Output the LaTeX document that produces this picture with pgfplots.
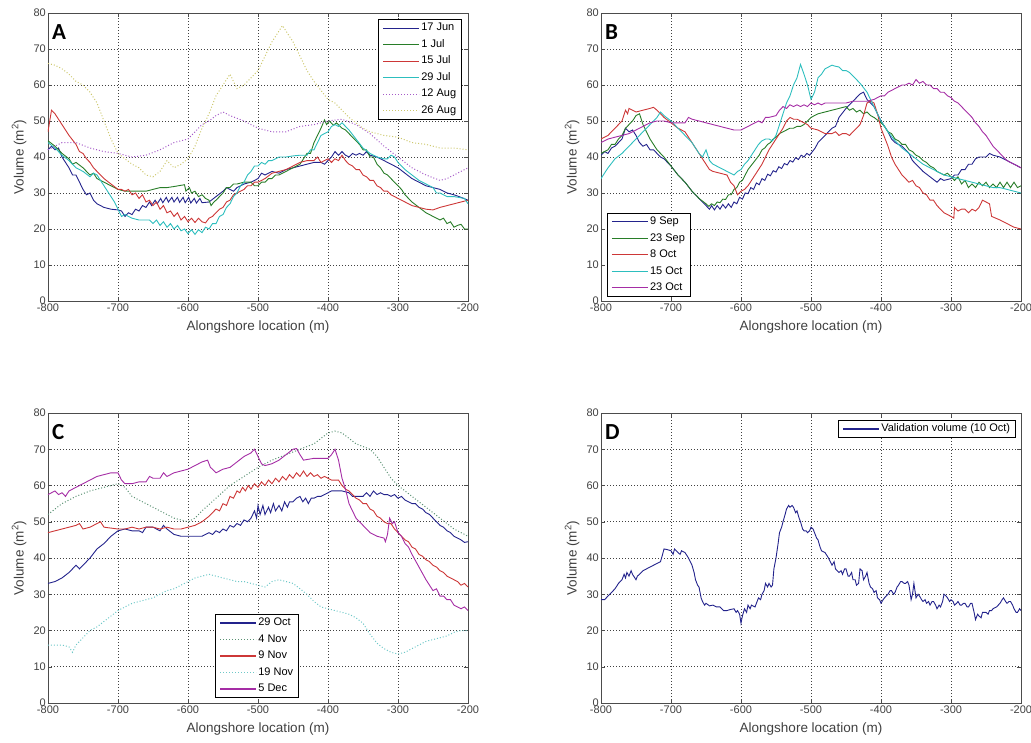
\documentclass[border=0pt]{standalone}
\usepackage{pgfplots}
\pgfplotsset{compat=1.18}
\usepackage{fontspec}
\setmainfont{Liberation Sans}
\newfontfamily\carlito{Carlito}

\definecolor{mblue}{RGB}{35,35,140}
\definecolor{mgreen}{RGB}{40,125,40}
\definecolor{mred}{RGB}{205,55,55}
\definecolor{mcyan}{RGB}{45,190,190}
\definecolor{mmag}{RGB}{165,45,165}
\definecolor{mpurp}{RGB}{165,90,200}
\definecolor{myel}{RGB}{205,200,110}
\definecolor{mgdot}{RGB}{90,145,115}
\definecolor{mcdot}{RGB}{110,200,200}

\pgfplotsset{
  mstyle/.style={
    scale only axis, width=420pt, height=288pt,
    xmin=-800, xmax=-200, ymin=0, ymax=80,
    xtick={-800,-700,-600,-500,-400,-300,-200},
    xticklabels={-800,-700,-600,-500,-400,-300,-200},
    ytick={0,10,...,80},
    /pgf/number format/assume math mode=true,
    tick align=inside, major tick length=4pt,
    axis line style={black!70, line width=0.8pt},
    major tick style={black!70},
    grid=major,
    major grid style={black!75, line width=0.7pt, dash pattern=on 1pt off 2pt},
    tick label style={font=\fontsize{11}{11}\selectfont, text=black!75},
    xticklabel style={inner sep=1pt, yshift=-2pt},
    yticklabel style={inner sep=1pt, xshift=-1pt},
    xlabel={Alongshore location (m)},
    ylabel={Volume (m\textsuperscript{2})},
    every axis x label/.style={at={([yshift=-26pt]rel axis cs:0.5,0)}, anchor=center,
      font=\fontsize{13.5}{13.5}\selectfont, text=black!75},
    every axis y label/.style={at={([xshift=-29pt]rel axis cs:0,0.5)}, anchor=center, rotate=90,
      font=\fontsize{13.5}{13.5}\selectfont, text=black!75},
    legend cell align=left,
    legend style={draw=black, line width=0.8pt, fill=white,
      font=\fontsize{11}{12}\selectfont, inner xsep=4pt, inner ysep=2pt,
      row sep=3pt,
      nodes={inner sep=1.5pt, text height=8pt, text depth=2.5pt}},
    legend image code/.code={\draw[mark repeat=2,mark phase=2, line width=1.3pt]
      plot coordinates {(0pt,0pt) (18pt,0pt) (36pt,0pt)};},
    every axis plot/.append style={line width=0.9pt},
  },
  dotl/.style={dash pattern=on 1pt off 2pt, line width=1pt},
}

\newcommand{\plabel}[1]{\node[anchor=north west, inner sep=0pt,
  font=\carlito\bfseries\fontsize{23}{23}\selectfont]
  at ([xshift=4pt,yshift=-11pt]rel axis cs:0,1) {#1};}

\begin{document}
\begin{tikzpicture}
\path[use as bounding box] (0,0) rectangle (1031pt,742pt);

%%%%% A
\begin{axis}[mstyle, at={(48pt,441pt)}, anchor=south west,
  legend style={at={(0.986,0.979)}, anchor=north east}]
\addplot[mblue] coordinates {(-800,42)(-795,43)(-790,42)(-785,42.5)(-780,40)(-770,37)(-765,35)(-760,35)(-755,33)(-750,31)(-745,29.5)(-740,30)(-735,28)(-730,27)(-720,26)(-710,25.5)(-700,25.3)(-695,25)(-690,23.5)(-685,24.5)(-680,24)(-675,25.5)(-670,25)(-665,26.5)(-660,26)(-655,27.5)(-652,26.5)(-647,28)(-644,27)(-639,28.5)(-636,27.3)(-631,28.8)(-628,27.5)(-623,28.8)(-620,27.5)(-615,28.8)(-612,27.4)(-607,28.8)(-604,27.3)(-599,28.8)(-596,27.2)(-591,28.5)(-588,27.2)(-583,28.5)(-580,27.3)(-570,27.5)(-560,29)(-550,30.5)(-545,31.5)(-540,31)(-535,30.5)(-530,31.5)(-520,32.5)(-510,33)(-500,34)(-495,35.5)(-490,35)(-480,36)(-470,35.5)(-460,36.5)(-450,37)(-440,37.5)(-430,38)(-420,38.5)(-410,38.5)(-405,38)(-400,39)(-395,40)(-390,41.5)(-385,40.5)(-380,41.5)(-375,40.5)(-370,40)(-365,41)(-360,40.5)(-355,41)(-350,40.5)(-345,41.5)(-340,40.5)(-330,40)(-320,39)(-310,38)(-300,37)(-290,35.5)(-280,34)(-270,33)(-260,32)(-250,31.5)(-240,31)(-230,30)(-220,29.5)(-210,28.8)(-200,28)};
\addlegendentry{17 Jun}
\addplot[mgreen] coordinates {(-800,44.5)(-790,43)(-780,41)(-770,39.5)(-765,38)(-760,38.5)(-750,37)(-740,35)(-735,35.5)(-730,34)(-720,33)(-710,32)(-700,31)(-690,30.5)(-680,30.5)(-670,30.5)(-660,30.5)(-650,31)(-640,31.5)(-630,31.5)(-620,31.8)(-605,32.3)(-603,30.5)(-598,31.5)(-595,30)(-590,30.5)(-585,29)(-580,29.5)(-575,28.5)(-570,28)(-567,26.5)(-563,27.5)(-560,28)(-555,29)(-550,30)(-545,31.5)(-540,31.5)(-535,32.5)(-530,32.5)(-520,33)(-510,33)(-505,32)(-500,32)(-495,33)(-490,33)(-485,34)(-480,34)(-475,35)(-470,35)(-460,36)(-450,37)(-440,38)(-435,39.5)(-430,41)(-425,41)(-420,44)(-415,46)(-410,48)(-405,50.3)(-402,49)(-398,50)(-392,48.8)(-388,49.5)(-380,48)(-375,47.5)(-370,46.5)(-360,44.5)(-355,43.5)(-350,42)(-345,42)(-340,40)(-335,40)(-330,38)(-325,37)(-320,35.5)(-315,35)(-310,34)(-305,33)(-300,32)(-295,31)(-290,29.5)(-280,27.5)(-270,26)(-260,24.5)(-250,23.5)(-240,22.5)(-235,23)(-230,21.5)(-225,22)(-220,20.5)(-215,21)(-210,21.3)(-205,20)(-200,20)};
\addlegendentry{1 Jul}
\addplot[mred] coordinates {(-800,47)(-795,53)(-790,52)(-780,49)(-770,46)(-760,43.5)(-755,41.5)(-750,41)(-745,39.5)(-740,38.5)(-735,37)(-730,36)(-725,35)(-720,34)(-710,32.5)(-700,31)(-695,31)(-690,30.5)(-685,31)(-680,29.5)(-675,30)(-670,28.5)(-665,29.5)(-660,27.5)(-655,28)(-650,26.5)(-645,27.5)(-640,25.5)(-635,26.5)(-630,24.5)(-625,25)(-620,23.5)(-615,24.5)(-610,22.5)(-605,23.5)(-600,22)(-595,23)(-590,21.8)(-585,23)(-580,22)(-575,21.7)(-570,23)(-565,23.5)(-560,24.5)(-555,25.5)(-550,26)(-545,27.5)(-540,28)(-535,29.5)(-530,30)(-525,30.5)(-520,31)(-515,32)(-510,32)(-505,33)(-500,33)(-490,34)(-480,35.5)(-470,36)(-460,36.5)(-450,37.5)(-440,38.5)(-430,39)(-420,39)(-415,40)(-410,38.5)(-400,39.5)(-395,38.5)(-390,39.5)(-385,39)(-380,40.5)(-375,39)(-370,38)(-365,37.5)(-360,36.5)(-355,36.5)(-350,35)(-345,34.5)(-340,33.5)(-335,33.5)(-330,32)(-325,31.5)(-320,30.5)(-315,30.5)(-310,29.5)(-300,28.5)(-290,27.5)(-280,26.5)(-270,26)(-260,25.5)(-250,25.3)(-240,26)(-230,26.5)(-220,27)(-210,27.5)(-200,28)};
\addlegendentry{15 Jul}
\addplot[mcyan] coordinates {(-800,44)(-790,42.5)(-780,40.5)(-770,39)(-760,37)(-750,36)(-740,34.5)(-735,35.5)(-730,35)(-725,33.5)(-720,32)(-715,30.5)(-710,29)(-705,27.5)(-700,25.5)(-695,23.5)(-690,24)(-680,23)(-670,22.5)(-660,22.5)(-655,22.5)(-650,21.5)(-645,22.5)(-640,21)(-635,22)(-630,20.5)(-625,21.5)(-620,20)(-615,21)(-610,19.5)(-605,20)(-600,18.7)(-595,19.8)(-590,18.5)(-585,19.8)(-580,19)(-575,20.5)(-570,20)(-565,21.5)(-560,21.5)(-555,23.5)(-550,24)(-545,26)(-540,27)(-535,29)(-530,30)(-525,32)(-520,33)(-515,35)(-510,36)(-505,37.5)(-500,37.5)(-495,38.5)(-490,38)(-485,39)(-480,39)(-470,40)(-460,40)(-450,40.3)(-440,40.5)(-430,40.5)(-425,42)(-420,42)(-415,44)(-410,46)(-405,46.5)(-400,47)(-395,48.5)(-390,49)(-385,48.5)(-380,49.5)(-375,48.5)(-370,47.5)(-360,45)(-350,42.5)(-340,41)(-330,40)(-320,39.5)(-315,39.5)(-310,40.5)(-305,40)(-300,38.5)(-290,36.5)(-280,35)(-270,33.5)(-260,32.5)(-250,31.5)(-245,30)(-240,30)(-230,29)(-220,29)(-205,28.5)(-200,27)};
\addlegendentry{29 Jul}
\addplot[mpurp, dotl] coordinates {(-800,42)(-790,43)(-780,44)(-760,44)(-740,42.5)(-720,41.5)(-700,41)(-690,40.5)(-680,40)(-660,40.5)(-640,42)(-630,43)(-620,44)(-600,45)(-590,47)(-580,49)(-570,50)(-560,51.5)(-550,52.5)(-540,51.5)(-520,50)(-500,48)(-480,47)(-460,47)(-440,48.5)(-420,49)(-400,50)(-380,50.5)(-360,49)(-340,46.5)(-320,43)(-300,40)(-280,37)(-260,35)(-240,33.5)(-230,34)(-220,35)(-200,37)};
\addlegendentry{12 Aug}
\addplot[myel, dotl] coordinates {(-800,66)(-790,65.5)(-780,64.5)(-770,63)(-760,61)(-750,60)(-740,58)(-730,55)(-720,50)(-710,45)(-700,41)(-690,39.5)(-680,38)(-670,37)(-660,35)(-650,34.5)(-640,36)(-630,39)(-620,37)(-610,38)(-600,39.5)(-590,43)(-580,48)(-570,52)(-560,57)(-550,60)(-540,63)(-535,61)(-530,59)(-520,60)(-510,62)(-500,64)(-490,68)(-480,72)(-470,75)(-465,76.5)(-460,75)(-450,72)(-440,68)(-430,64)(-420,61)(-410,58.5)(-400,56)(-390,55)(-380,53)(-370,51)(-360,49.5)(-350,48)(-340,47)(-320,46)(-300,45.5)(-280,44)(-260,43.5)(-240,42.5)(-220,42.5)(-200,42)};
\addlegendentry{26 Aug}
\plabel{A}
\end{axis}

%%%%% B
\begin{axis}[mstyle, at={(601pt,441pt)}, anchor=south west,
  legend style={at={(0.014,0.014)}, anchor=south west}]
\addplot[mblue] coordinates {(-800,40.5)(-795,41.5)(-790,41)(-785,42.5)(-780,43)(-775,44)(-770,45)(-765,48)(-760,47)(-755,47.5)(-750,46)(-745,44)(-740,43)(-735,43.5)(-730,42)(-725,42)(-720,41)(-715,40)(-710,39.5)(-700,37.5)(-690,35)(-680,33)(-670,30.5)(-660,28.5)(-650,26.5)(-645,25.5)(-642,26.5)(-638,25.3)(-634,26.5)(-630,25.5)(-626,26.8)(-622,25.8)(-618,27)(-614,26)(-610,27.5)(-606,27)(-602,28.8)(-598,28.3)(-594,30)(-590,29.8)(-586,31.5)(-582,31)(-578,32.8)(-574,32.3)(-570,34)(-566,33.5)(-562,35.2)(-558,34.8)(-554,36.2)(-550,35.8)(-546,37.3)(-542,36.8)(-538,38.2)(-534,37.8)(-530,39)(-526,38.6)(-522,39.8)(-518,39.3)(-514,40.5)(-510,40)(-506,41)(-502,40.5)(-498,41.5)(-494,42.5)(-490,44)(-480,46)(-470,48)(-465,48.5)(-460,51)(-450,53.5)(-440,55.5)(-430,57.5)(-425,58)(-420,56)(-415,55)(-410,54)(-405,52)(-400,50)(-395,48.5)(-390,47)(-385,45)(-380,44)(-375,43.5)(-370,43)(-365,42)(-360,41)(-355,39)(-350,38)(-345,37)(-340,36)(-330,34.5)(-320,33)(-315,34)(-310,33.5)(-300,34)(-295,35)(-290,35)(-285,36.5)(-280,36.5)(-275,38)(-270,38)(-265,39.5)(-260,40)(-250,40)(-245,41)(-240,40.5)(-230,40)(-220,39)(-210,38)(-200,37)};
\addlegendentry{9 Sep}
\addplot[mgreen] coordinates {(-800,41)(-795,41.5)(-790,42)(-785,43.5)(-780,43.5)(-775,45)(-770,46)(-765,48)(-760,49)(-755,50)(-750,51.5)(-745,52)(-740,49)(-735,47)(-730,45)(-725,43.5)(-720,42)(-710,40)(-700,37.5)(-690,35)(-680,33)(-670,30.5)(-660,28.5)(-650,27)(-646,26.3)(-642,27)(-638,26.5)(-634,27.5)(-630,27.3)(-626,28.3)(-622,28.2)(-618,29.5)(-614,29.5)(-610,31)(-606,31.5)(-602,33)(-598,33.5)(-594,35)(-590,36.5)(-586,37.5)(-582,38.5)(-578,39.5)(-574,40.5)(-570,42)(-566,42.5)(-562,43.5)(-558,44)(-554,45)(-550,45.5)(-545,46.5)(-540,47)(-535,47.5)(-530,48)(-525,48)(-520,48.5)(-515,48.5)(-510,49)(-505,50)(-500,51)(-490,52)(-480,52.5)(-470,53)(-460,53.5)(-450,54)(-445,53)(-440,53.5)(-435,52.5)(-430,53)(-425,52)(-420,52.5)(-415,51.5)(-410,51)(-400,49.5)(-395,48.5)(-390,47)(-385,46.5)(-380,45)(-375,44.5)(-370,43.5)(-365,43.5)(-360,42)(-355,41.5)(-350,40.5)(-345,40)(-340,39)(-335,38.5)(-330,37.5)(-325,37)(-320,36)(-315,35.5)(-310,35)(-305,35.5)(-300,34.5)(-295,33.5)(-290,34.5)(-285,32.5)(-280,33.5)(-275,31.5)(-270,32.5)(-265,31.5)(-260,33)(-255,32)(-250,33)(-245,31.5)(-240,32.5)(-235,31.5)(-230,33)(-225,31.5)(-220,33)(-215,31.5)(-210,33)(-205,31.5)(-200,32)};
\addlegendentry{23 Sep}
\addplot[mred] coordinates {(-800,45)(-790,46)(-780,48)(-770,50)(-765,53)(-762,52)(-760,53.5)(-750,52.5)(-740,53)(-730,53.5)(-725,53.8)(-720,53)(-710,51)(-700,49.5)(-690,48)(-680,47)(-670,44)(-660,41)(-650,38)(-645,36.5)(-640,36)(-630,35.5)(-620,35)(-615,33)(-610,32)(-605,29.5)(-600,30.5)(-595,31)(-590,32)(-585,33.5)(-580,35)(-575,36.5)(-570,38)(-565,40)(-560,42)(-555,43.5)(-550,45)(-545,46.5)(-540,48)(-535,50)(-530,51)(-525,50.5)(-520,50.5)(-515,50)(-510,49.5)(-505,49)(-500,48)(-490,47.5)(-480,46.5)(-470,46.5)(-465,47)(-460,46)(-455,46.5)(-450,46.5)(-445,46)(-440,47)(-435,48)(-430,49)(-425,51.5)(-420,55)(-415,55.5)(-410,55)(-405,52)(-400,48)(-395,45.5)(-390,43)(-385,40)(-380,38)(-375,36.5)(-370,35)(-365,34)(-360,33)(-355,33.5)(-350,32)(-345,31.5)(-340,30)(-335,29.5)(-330,28)(-325,28)(-320,26.5)(-315,25.5)(-310,24.5)(-300,23.5)(-296,23)(-295,26)(-290,25)(-285,25.5)(-280,25.5)(-275,24.5)(-270,25.5)(-265,25)(-260,26)(-255,28)(-250,27.5)(-245,27)(-242,23.5)(-230,22.5)(-220,21.5)(-210,20.5)(-200,20)};
\addlegendentry{8 Oct}
\addplot[mcyan] coordinates {(-800,34)(-790,37)(-780,39.5)(-770,41)(-760,43)(-750,45)(-740,47)(-730,49)(-720,51)(-715,52.5)(-710,51.5)(-700,50)(-690,48)(-680,46)(-670,44)(-660,41)(-655,40)(-650,42)(-645,39)(-640,38)(-630,37)(-620,36)(-610,35)(-605,36)(-600,36.5)(-595,38)(-590,39)(-585,40.5)(-580,42)(-575,43.5)(-570,44.5)(-565,45)(-560,45)(-555,44.5)(-550,46)(-545,49)(-540,52)(-535,55)(-530,57)(-525,60)(-520,62)(-515,65.7)(-510,63)(-505,60)(-500,56)(-495,58)(-490,62)(-485,63)(-480,64.5)(-475,65)(-470,65.5)(-465,65.2)(-460,65)(-455,64)(-450,64)(-445,63.5)(-440,62.5)(-430,60.5)(-420,58)(-410,54)(-400,50)(-390,47)(-380,44.5)(-370,42.5)(-360,41)(-350,39.5)(-340,38)(-330,37)(-320,36)(-310,35)(-300,34.5)(-290,34)(-280,33.5)(-270,33)(-260,32.5)(-250,32)(-240,31.5)(-230,31.5)(-220,31)(-210,30.5)(-200,30)};
\addlegendentry{15 Oct}
\addplot[mmag] coordinates {(-800,44)(-790,45)(-780,45.5)(-770,46)(-760,46.5)(-750,47.5)(-740,48.5)(-730,49.5)(-720,50)(-710,50)(-700,49.5)(-690,49.5)(-680,49.5)(-675,51)(-670,50.5)(-660,50)(-650,49.5)(-640,49)(-630,48.5)(-620,48)(-610,47.5)(-600,47.5)(-590,48.5)(-580,49.5)(-575,50)(-570,49.5)(-565,51)(-560,51)(-550,51.5)(-545,53)(-540,54)(-535,53.5)(-530,54.5)(-525,54)(-520,54.5)(-515,54)(-510,54.5)(-505,54)(-500,55)(-495,54.5)(-490,55)(-485,54.5)(-480,55)(-470,55)(-460,55)(-450,55)(-440,55.5)(-430,55.5)(-420,55.5)(-410,56)(-400,57)(-395,57)(-390,58)(-380,59)(-370,60)(-365,60)(-360,60.5)(-355,60)(-350,61.5)(-345,60.5)(-340,61)(-335,60)(-330,60)(-325,59)(-320,59)(-315,58)(-310,58)(-305,57)(-300,56.5)(-295,55.5)(-290,55)(-285,54)(-280,53)(-275,52)(-270,51)(-265,49.5)(-260,48.5)(-255,47)(-250,46)(-245,44.5)(-240,43)(-235,42)(-230,41)(-225,40)(-220,39)(-210,38)(-200,37)};
\addlegendentry{23 Oct}
\plabel{B}
\end{axis}

%%%%% C
\begin{axis}[mstyle, height=290pt, at={(48pt,39pt)}, anchor=south west,
  legend style={at={(0.398,0.017)}, anchor=south west}]
\addplot[mblue] coordinates {(-800,33)(-790,33.5)(-780,34.5)(-770,36)(-760,38)(-755,37)(-750,38)(-740,40)(-730,42.5)(-720,44)(-710,46)(-700,47.5)(-690,48)(-680,47.5)(-670,47.5)(-665,47)(-660,48.5)(-650,48.5)(-640,47.5)(-635,49)(-630,48)(-620,46.5)(-610,46)(-600,46)(-590,46)(-580,46)(-570,47)(-565,46.5)(-560,47.5)(-555,47)(-550,48)(-545,47.5)(-540,49)(-535,48.5)(-530,49.5)(-525,49)(-520,50.5)(-515,50)(-510,51)(-505,53)(-502,51)(-500,54.5)(-497,52)(-493,54.5)(-490,52)(-485,54)(-482,52.5)(-478,55)(-475,53)(-470,54.5)(-466,53)(-462,55.5)(-458,54)(-455,55.5)(-450,55.5)(-445,56.5)(-440,57)(-436,55.5)(-432,56.5)(-428,55)(-424,56.5)(-420,56.5)(-415,57)(-410,57)(-405,57.5)(-400,58)(-395,58.5)(-390,58.5)(-380,58.5)(-370,58)(-365,57)(-360,57)(-350,57)(-345,58)(-340,57)(-335,58.5)(-330,57.5)(-325,58)(-320,57.5)(-315,57.5)(-310,57)(-305,57.5)(-300,56.5)(-295,57)(-290,56)(-285,55.5)(-280,55)(-275,55)(-270,54)(-265,53.5)(-260,52.5)(-255,52)(-250,51)(-245,50)(-240,49)(-235,48.5)(-230,47.5)(-225,47)(-220,46)(-210,45)(-205,44.3)(-200,44.5)};
\addlegendentry{29 Oct}
\addplot[mgdot, dotl] coordinates {(-800,52)(-790,53.5)(-780,55)(-760,57)(-740,58.5)(-720,59.5)(-700,60.5)(-690,59.5)(-680,57)(-660,55)(-640,53)(-620,51)(-600,50)(-590,51)(-580,53)(-560,56.5)(-540,60)(-520,62.5)(-500,65)(-480,67)(-460,68.5)(-440,70)(-420,71.5)(-410,73)(-400,74.5)(-390,75)(-380,74.5)(-370,73)(-360,71.5)(-340,70)(-330,68)(-320,65)(-310,62)(-300,60)(-290,58.5)(-280,57)(-260,54)(-240,51)(-220,48)(-200,46)};
\addlegendentry{4 Nov}
\addplot[mred] coordinates {(-800,47)(-780,48)(-760,49)(-755,49.5)(-750,48)(-740,48.5)(-730,49.5)(-725,50)(-720,48.5)(-700,48)(-690,48)(-680,48.5)(-670,48)(-660,48.5)(-650,48.5)(-640,48)(-630,48.5)(-620,48)(-610,48)(-600,48.5)(-590,49)(-580,50)(-570,51.5)(-565,52.5)(-560,53.5)(-555,53)(-550,55)(-545,54.5)(-540,57)(-535,56.5)(-530,58.5)(-526,58)(-522,59.5)(-518,58.5)(-514,60)(-510,59)(-505,60.5)(-500,59.5)(-495,61)(-490,60)(-485,61.5)(-480,60.5)(-475,62)(-470,61)(-465,62.5)(-460,61.5)(-455,63)(-450,62)(-445,63.5)(-440,62.5)(-435,64)(-430,62.5)(-425,63.5)(-420,62.5)(-415,63)(-410,62)(-405,62.5)(-400,62)(-395,61.5)(-390,61.5)(-385,61.5)(-380,60)(-375,59)(-370,58.5)(-365,57.5)(-360,56.5)(-355,56)(-350,55)(-345,55)(-340,53.5)(-335,53)(-330,51.5)(-325,51)(-320,50)(-315,49.5)(-310,49.5)(-305,48)(-300,47)(-295,46)(-290,45)(-285,44.5)(-280,43)(-275,42.5)(-270,41)(-265,40.5)(-260,39.5)(-255,39)(-250,38)(-245,37.5)(-240,36.5)(-235,36)(-230,35)(-225,34.5)(-220,34)(-215,33.5)(-210,32.5)(-205,33)(-200,32)};
\addlegendentry{9 Nov}
\addplot[mcdot, dotl] coordinates {(-800,16)(-780,16)(-770,15.5)(-765,14)(-760,16)(-750,18)(-740,20)(-730,21)(-720,22.5)(-710,24)(-700,25.5)(-690,26.5)(-680,27.5)(-670,28)(-660,28.5)(-650,29)(-640,30)(-630,31)(-620,31.5)(-610,32.5)(-600,33.5)(-590,34.5)(-580,35)(-570,35.5)(-560,35)(-550,34.5)(-540,34)(-530,33.5)(-520,33.5)(-510,33)(-500,32.5)(-490,32)(-480,33.5)(-470,34)(-460,33.5)(-450,33)(-440,31.5)(-430,30)(-420,28)(-410,26.5)(-400,26)(-390,25.5)(-380,25)(-370,24.5)(-360,23.5)(-350,22)(-340,19)(-330,16.5)(-320,15)(-310,14)(-300,13.5)(-290,14)(-280,15)(-270,16)(-260,17)(-250,17.5)(-240,18)(-230,18.5)(-220,19.5)(-210,20)(-200,20)};
\addlegendentry{19 Nov}
\addplot[mmag] coordinates {(-800,57.5)(-790,58.5)(-785,57.5)(-780,58)(-775,57)(-770,58.5)(-760,59.5)(-750,60.5)(-740,61.5)(-730,62.5)(-720,63)(-710,63.5)(-700,63.5)(-695,61.5)(-690,60.5)(-680,60.5)(-670,61)(-660,61)(-655,62.5)(-650,62)(-640,62)(-635,63.5)(-630,62.5)(-620,63.5)(-610,64)(-600,64.5)(-590,65.5)(-580,66.5)(-572,67)(-568,65)(-565,64.5)(-560,63.5)(-550,64.5)(-540,65)(-530,66.5)(-520,68)(-510,69)(-505,70)(-500,68)(-495,66)(-490,65.5)(-480,66)(-470,67)(-460,68.5)(-450,70)(-445,70.2)(-440,68.5)(-435,67)(-420,67.5)(-410,67.5)(-400,67.5)(-395,68.5)(-390,70)(-385,67)(-380,62)(-375,59)(-370,55)(-360,51)(-350,49)(-340,47)(-330,46)(-320,45.5)(-318,44.5)(-315,46.5)(-312,51)(-308,49.5)(-305,50)(-300,47)(-295,46)(-290,44)(-285,43)(-280,41)(-270,37.5)(-260,34)(-250,31)(-245,31.5)(-240,29.5)(-235,29.5)(-230,28.5)(-225,28.5)(-220,27)(-210,26)(-205,26.5)(-200,25.5)};
\addlegendentry{5 Dec}
\plabel{C}
\end{axis}

%%%%% D
\begin{axis}[mstyle, height=290pt, at={(601pt,39pt)}, anchor=south west,
  legend style={at={(0.988,0.976)}, anchor=north east}]
\addplot[mblue] coordinates {(-800,28.5)(-795,28.5)(-790,29.5)(-785,30.5)(-780,31.5)(-775,33)(-770,34)(-767,35.5)(-765,34.5)(-763,36)(-760,35)(-757,36.5)(-755,35.5)(-750,34)(-748,35)(-745,35.5)(-740,36.5)(-735,37)(-730,37.5)(-725,38)(-720,38.5)(-715,39)(-712,41)(-710,42.5)(-705,42.3)(-700,42)(-697,41)(-695,42.5)(-690,41.5)(-687,41)(-685,42)(-680,41.5)(-675,40)(-670,38)(-667,36)(-665,34)(-662,32.5)(-660,32)(-657,29)(-655,28)(-652,27)(-650,27.5)(-645,26.8)(-640,27)(-635,26.5)(-630,26.5)(-625,25.5)(-620,25.5)(-615,25.8)(-610,26)(-607,25)(-605,25.5)(-602,24.5)(-600,22)(-598,24)(-595,26)(-592,25)(-590,27)(-587,26)(-585,27)(-580,26.5)(-577,28)(-575,29)(-572,28.5)(-570,30)(-567,31)(-565,33)(-562,32)(-560,33)(-557,32)(-555,32.5)(-553,37)(-550,40)(-547,44)(-545,47)(-542,48.5)(-540,50)(-537,52)(-535,53.5)(-532,54.5)(-530,54)(-527,54.5)(-525,54)(-522,52.5)(-520,53)(-517,51)(-515,50)(-512,48)(-510,47.5)(-507,47.5)(-505,47)(-502,47.5)(-500,48.5)(-497,48)(-495,47)(-492,45.5)(-490,45)(-487,43)(-485,42)(-480,41.5)(-475,40)(-470,38)(-467,39)(-465,37)(-460,36)(-457,36.5)(-455,35.5)(-452,37)(-450,37)(-447,35)(-445,35)(-442,36)(-440,34)(-437,34)(-435,32.5)(-432,33)(-430,37)(-427,36.5)(-425,34)(-422,35)(-420,36)(-417,33)(-415,32)(-412,31.5)(-410,30.5)(-407,31)(-405,29)(-402,28.5)(-400,27.5)(-397,28.5)(-395,29)(-390,30)(-387,31)(-385,31)(-382,30)(-380,30.5)(-377,32)(-375,32.5)(-372,33.5)(-370,33.5)(-367,33)(-365,33)(-362,33.5)(-360,32.5)(-357,28.5)(-355,30)(-353,33)(-350,29)(-347,30)(-345,29.5)(-342,28.5)(-340,28)(-337,28.5)(-335,27.5)(-332,28)(-330,27)(-327,28)(-325,28)(-322,27)(-320,26)(-317,27)(-315,26.5)(-312,28)(-310,30)(-307,29.5)(-305,29)(-302,28)(-300,28.5)(-297,28)(-295,27)(-292,27.5)(-290,28)(-287,27)(-285,27)(-282,27.5)(-280,27.5)(-277,26.5)(-275,26.5)(-272,27.5)(-270,27.5)(-267,25)(-265,23)(-262,24.5)(-260,24)(-257,23.5)(-255,25)(-252,25)(-250,25)(-247,24.5)(-245,25.5)(-242,25.5)(-240,26)(-235,26.5)(-230,27.5)(-227,28.5)(-225,29)(-222,28)(-220,27.5)(-217,28)(-215,28)(-212,27)(-210,26)(-207,25)(-205,25)(-202,26)(-200,25.5)};
\addlegendentry{Validation volume (10 Oct)}
\plabel{D}
\end{axis}
\end{tikzpicture}
\end{document}
